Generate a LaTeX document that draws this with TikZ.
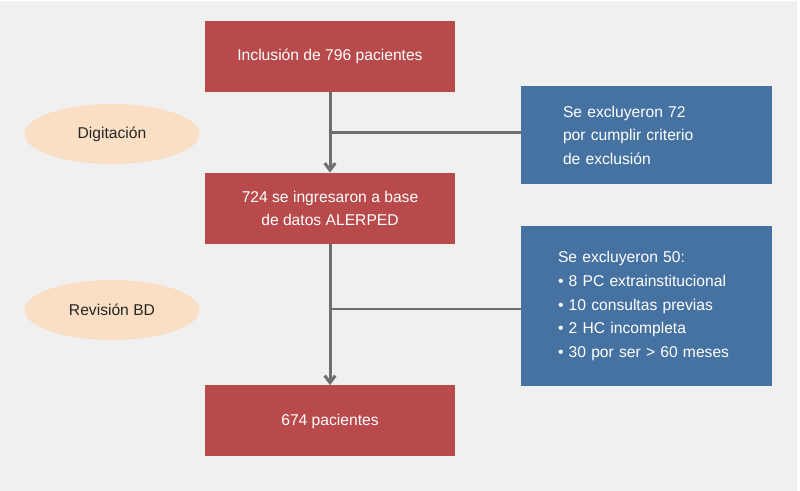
\documentclass[tikz,border=0pt]{standalone}
\usepackage{fontspec}
\setmainfont{Liberation Sans}
\definecolor{BoxRed}{HTML}{B84A4B}
\definecolor{BoxBlue}{HTML}{4672A2}
\definecolor{StepPeach}{HTML}{FADFC4}
\definecolor{PanelGray}{HTML}{F0F0F0}
\definecolor{LineGray}{HTML}{6E6E6E}
\definecolor{TextDark}{HTML}{262626}
\usetikzlibrary{arrows.meta, positioning, shapes.geometric}

\begin{document}
\begin{tikzpicture}[>={Straight Barb[length=4pt, width=6pt]},
  flowbox/.style={fill=BoxRed, text=white, minimum width=5cm, minimum height=1.42cm,
                  align=center, font=\fontsize{8.9}{13}\selectfont},
  exclbox/.style={fill=BoxBlue, text=white, minimum width=5.02cm, align=left,
                  font=\fontsize{8.9}{13.4}\selectfont},
  phase/.style={ellipse, fill=StepPeach, text=TextDark, minimum width=3.5cm,
                minimum height=1.2cm, font=\fontsize{8.9}{13}\selectfont},
  link/.style={draw=LineGray, line width=1.7pt}]
  \useasboundingbox (0,0) rectangle (16,9.82);
  \fill[PanelGray] (0,0) rectangle (15.94,9.8);
  % Phases
  \node[phase] (dig) at (2.24,7.14) {Digitación};
  \node[phase] (rev) at (2.24,3.62) {Revisión BD};
  % Main flow
  \node[flowbox] (incl) at (6.6,8.69) {Inclusión de 796 pacientes};
  \node[flowbox] (base) at (6.6,5.65) {724 se ingresaron a base\\ de datos ALERPED};
  \node[flowbox] (final) at (6.6,1.4) {674 pacientes};
  % Exclusions
  \node[exclbox, minimum height=1.96cm, inner xsep=0.84cm, text width=3.34cm] (excl1) at (12.93,7.12)
    {Se excluyeron 72\\ por cumplir criterio\\ de exclusión};
  \node[exclbox, minimum height=3.2cm, inner xsep=0.74cm, text width=3.54cm] (excl2) at (12.93,3.7)
    {Se excluyeron 50:\\ • 8 PC extrainstitucional\\ • 10 consultas previas\\ • 2 HC incompleta\\ • 30 por ser > 60 meses};
  % Arrows
  \draw[link, ->] (incl) -- (base);
  \draw[link, ->] (base) -- (final);
  \coordinate (j1) at (6.6,7.16);
  \coordinate (j2) at (6.6,3.64);
  \draw[link] (j1) -- (excl1.west |- j1);
  \draw[link] (j2) -- (excl2.west |- j2);
\end{tikzpicture}
\end{document}
